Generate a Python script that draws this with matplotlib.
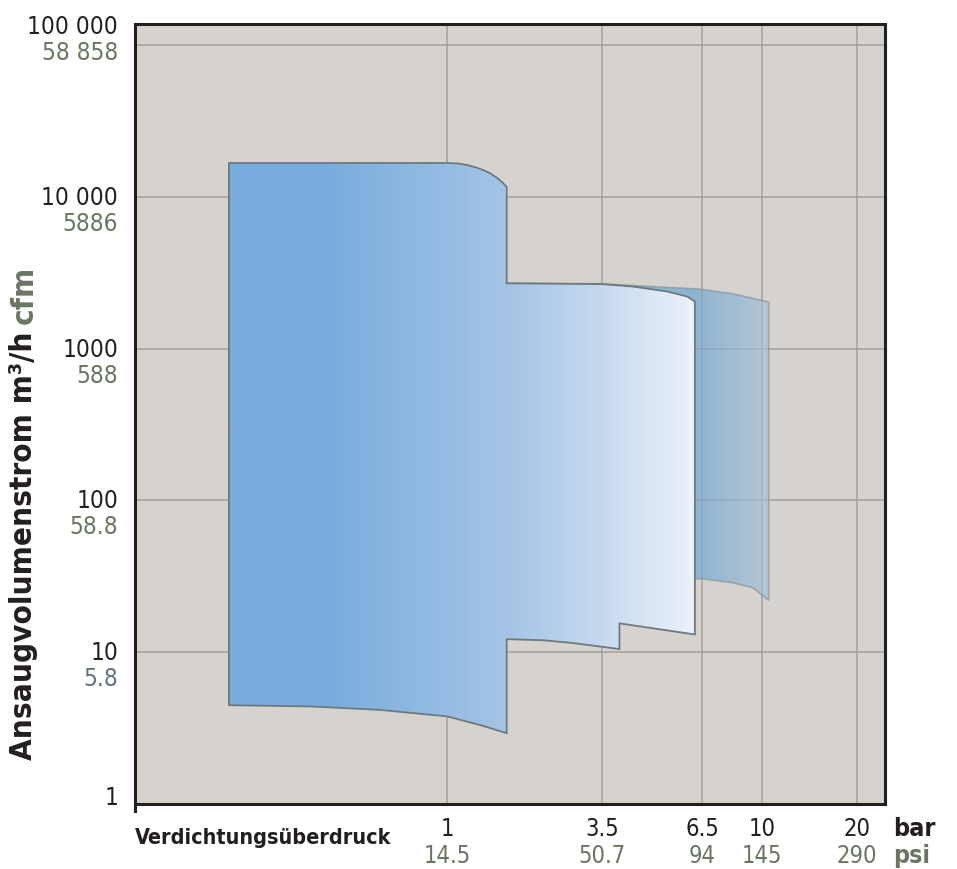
import numpy as np
import matplotlib
matplotlib.use("Agg")
import matplotlib.pyplot as plt
from matplotlib import font_manager
from matplotlib.patches import Polygon
from matplotlib.colors import LinearSegmentedColormap
from matplotlib.ticker import FixedLocator, NullLocator

# pick a condensed face if one is installed
fonts = font_manager.fontManager.ttflist
names = {f.name for f in fonts}
stretch = "normal"
if "Liberation Sans Narrow" in names:
    family = "Liberation Sans Narrow"
elif any(f.name == "DejaVu Sans" and f.stretch in ("condensed", "semi-condensed") for f in fonts):
    family = "DejaVu Sans"
    stretch = "condensed"
else:
    family = "Liberation Sans"
plt.rcParams["font.family"] = [family, "DejaVu Sans"]
plt.rcParams["font.stretch"] = stretch

# tick values
pressure_bar = [1, 3.5, 6.5, 10, 20]
pressure_psi = ["14.5", "50.7", "94", "145", "290"]
flow_m3h = [1, 10, 100, 1000, 10000, 100000]
flow_m3h_labels = ["1", "10", "100", "1000", "10 000", "100 000"]
flow_cfm_labels = ["", "5.8", "58.8", "588", "5886", "58 858"]

# front envelope outline (bar, m3/h)
front_bar = [0.2, 1.0, 1.1, 1.175, 1.26, 1.34, 1.42, 1.5, 1.57, 1.62,
             1.62, 3.5, 4.24, 5.24, 5.93, 6.22,
             6.22, 3.9, 3.9, 2.77, 2.17, 1.62,
             1.62, 1.31, 1.0, 0.61, 0.37, 0.2]
front_flow = [16750, 16750, 16600, 16240, 15700, 15060, 14300, 13340, 12400, 11640,
              2700, 2665, 2570, 2383, 2208, 2048,
              13.1, 15.5, 10.5, 11.5, 12.0, 12.2,
              2.93, 3.31, 3.78, 4.17, 4.39, 4.48]

# rear (translucent) envelope
back_bar = [1.62, 3.5, 4.24, 6.42, 8.12, 10.5,
            10.5, 9.38, 8.12, 6.5, 1.62]
back_flow = [2700, 2680, 2608, 2470, 2300, 2028,
             22, 26.6, 28.7, 30.5, 31]

# the pressure axis is drawn as a stretched log axis
axis_knots_bar = [0.1, 1, 3.5, 6.5, 10, 20, 24.5]
axis_knots_pos = [0, 312, 467, 567, 627, 722, 750]


def fwd(x):
    x = np.maximum(np.asarray(x, dtype=float), 1e-9)
    return np.interp(np.log10(x), np.log10(axis_knots_bar), axis_knots_pos)


def inv(p):
    return 10 ** np.interp(p, axis_knots_pos, np.log10(axis_knots_bar))


black = "#231f20"
green = "#6b7662"
bluegray = "#617382"

fig = plt.figure(figsize=(9.57, 8.7), dpi=100)
ax = fig.add_axes([135 / 957, 1 - 805 / 870, 750 / 957, 780 / 870])
ax.set_facecolor("#d6d2cd")
ax.set_xscale("function", functions=(fwd, inv))
ax.set_yscale("log")

# rear shape
back_patch = Polygon(list(zip(back_bar, back_flow)), closed=True,
                     facecolor="none", edgecolor="#8e9aa2", lw=1.2,
                     alpha=0.8, zorder=2.2)
ax.add_patch(back_patch)
back_cmap = LinearSegmentedColormap.from_list(
    "back", [(0, "#6ca6d1"), (0.74, "#6ca6d1"), (0.85, "#a8c3da"), (1, "#a8c3da")])
grad = np.linspace(0, 1, 600).reshape(1, -1)
img_b = ax.imshow(grad, cmap=back_cmap, extent=[0, 1, 0, 1], transform=ax.transAxes,
                  aspect="auto", alpha=0.7, zorder=2.1, interpolation="bilinear")
img_b.set_clip_path(back_patch)

# front shape
front_patch = Polygon(list(zip(front_bar, front_flow)), closed=True,
                      facecolor="none", edgecolor="#6d7a80", lw=1.3, zorder=3.1)
ax.add_patch(front_patch)
front_cmap = LinearSegmentedColormap.from_list(
    "front", [(0, "#78acdc"), (0.25, "#78acdc"), (0.5, "#a6c5e6"),
              (0.62, "#c6d8ef"), (0.75, "#eef2fa"), (1, "#eef2fa")])
img_f = ax.imshow(grad, cmap=front_cmap, extent=[0, 1, 0, 1], transform=ax.transAxes,
                  aspect="auto", zorder=3, interpolation="bilinear")
img_f.set_clip_path(front_patch)

ax.set_xlim(0.1, 24.5)
ax.set_ylim(1, 1.38e5)

# ticks and grid
ax.xaxis.set_major_locator(FixedLocator(pressure_bar))
ax.xaxis.set_minor_locator(NullLocator())
ax.yaxis.set_major_locator(FixedLocator(flow_m3h))
ax.yaxis.set_minor_locator(FixedLocator([1]))
ax.tick_params(which="major", length=0, labelbottom=False, labelleft=False)
ax.tick_params(axis="x", which="minor", length=0)
ax.tick_params(axis="y", which="minor", length=7.5, width=2.2, color=black,
               direction="out", labelleft=False)
ax.grid(True, which="major", color="#a69e9b", lw=1.1)
ax.set_axisbelow(True)
for s in ax.spines.values():
    s.set_color(black)
    s.set_linewidth(2.2)
    s.set_zorder(5)
ax.plot([0, 0], [0, -0.009], transform=ax.transAxes, color=black, lw=2.2,
        clip_on=False, zorder=5)

# y tick labels (m3/h and cfm); the top pair sits a little higher
for v, top, bot in zip(flow_m3h, flow_m3h_labels, flow_cfm_labels):
    dy = 19 if v == flow_m3h[-1] else (7 if v == flow_m3h[0] else 0)
    ax.annotate(top, xy=(0, v), xycoords=("axes fraction", "data"),
                xytext=(-17, dy), textcoords="offset pixels",
                ha="right", va="center", fontsize=17.5, color=black)
    if bot:
        ax.annotate(bot, xy=(0, v), xycoords=("axes fraction", "data"),
                    xytext=(-17, dy - 26), textcoords="offset pixels",
                    ha="right", va="center", fontsize=17.5,
                    color=bluegray if bot == "5.8" else green)

# x tick labels (bar and psi)
for b, p in zip(pressure_bar, pressure_psi):
    ax.annotate(f"{b:g}", xy=(b, 0), xycoords=("data", "axes fraction"),
                xytext=(0, -24), textcoords="offset pixels",
                ha="center", va="center", fontsize=17, color=black)
    ax.annotate(p, xy=(b, 0), xycoords=("data", "axes fraction"),
                xytext=(0, -51), textcoords="offset pixels",
                ha="center", va="center", fontsize=17, color=green)

fig.text(893 / 957, 1 - 829 / 870, "bar", ha="left", va="center",
         fontsize=18, fontweight="bold", color=black)
fig.text(893 / 957, 1 - 856 / 870, "psi", ha="left", va="center",
         fontsize=18, fontweight="bold", color=green)
fig.text(135 / 957, 1 - 838 / 870, "Verdichtungsüberdruck", ha="left", va="center",
         fontsize=15.5, fontweight="bold", color=black)

fig.text(24 / 957, 1 - 331 / 870, "Ansaugvolumenstrom m³/h", rotation=90,
         ha="center", va="top", fontsize=22.5, fontweight="bold", color=black)
fig.text(24 / 957, 1 - 324 / 870, "cfm", rotation=90,
         ha="center", va="bottom", fontsize=22.5, fontweight="bold", color=green)

fig.savefig("out.png", dpi=100, facecolor="white")
